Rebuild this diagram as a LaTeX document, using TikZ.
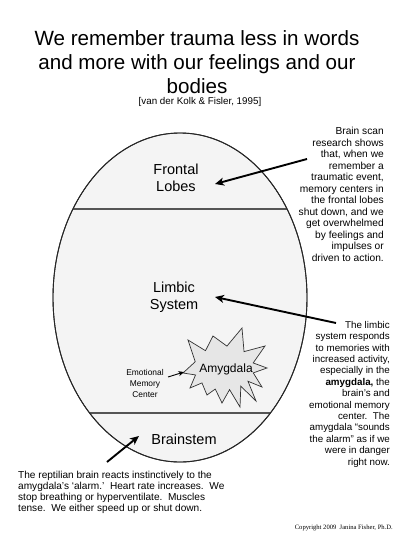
\documentclass[tikz,border=0pt]{standalone}
\usepackage{fontspec}
\setmainfont{Liberation Sans}
\newfontfamily\copyfont{Liberation Serif}
\usetikzlibrary{arrows.meta,shapes.geometric}
\definecolor{brainfill}{HTML}{F4F4F4}
\definecolor{starfill}{HTML}{E6E6E6}
\definecolor{lineclr}{HTML}{555555}
\begin{document}
\begin{tikzpicture}[x=1pt,y=-1pt,
  bigarrow/.style={line width=1.9pt,-{Stealth[length=9pt,width=8pt,inset=2.5pt]}},
  smallarrow/.style={line width=0.9pt,-{Stealth[length=5.5pt,width=5pt,inset=1.5pt]}},
  titletext/.style={font=\fontsize{20.6}{24}\selectfont, align=center, inner sep=0pt, anchor=base},
  regiontext/.style={font=\fontsize{14.5}{17}\selectfont, align=center, inner sep=0pt, anchor=base},
  notetext/.style={font=\fontsize{10.2}{11.5}\selectfont, align=right, inner sep=0pt, anchor=base east},
  notetextb/.style={font=\fontsize{9.8}{11.4}\selectfont, align=right, inner sep=0pt, anchor=base east},
  bottomtext/.style={font=\fontsize{10.1}{10.7}\selectfont, align=left, inner sep=0pt, anchor=base west},
  smalltext/.style={font=\fontsize{8.4}{10.8}\selectfont, align=center, inner sep=0pt, anchor=base},
  divider/.style={draw=lineclr, line width=1.3pt}]
\useasboundingbox (0,0) rectangle (400,533);
\fill[white] (0,0) rectangle (400,533);

% title (base anchor = baseline of last line)
\node[titletext] (title) at (197,93) {We remember trauma less in words\\and more with our feelings and our\\bodies};
\node[font=\fontsize{9.8}{12}\selectfont, inner sep=0pt, anchor=base] (cite) at (200,104) {[van der Kolk \& Fisler, 1995]};

% brain egg
\node[ellipse, draw=black!85, line width=0.9pt, fill=brainfill, minimum width=254pt, minimum height=329pt, inner sep=0pt] (brain) at (180,297.5) {};
\begin{scope}
  \clip (180,297.5) ellipse [x radius=127, y radius=164.5];
  \draw[divider] (40,209) -- (320,209);
  \draw[divider] (40,413) -- (320,413);
\end{scope}
\draw[black!85, line width=0.9pt] (180,297.5) ellipse [x radius=127, y radius=164.5];

% amygdala star
\coordinate (sc) at (224,368);
\draw[draw=black!80, line width=0.7pt, fill=starfill]
  (183,373) -- ([shift={(sc)}]-163.4:30 and 22)
  -- (188,340) -- ([shift={(sc)}]-128.1:30 and 22)
  -- (213,336) -- ([shift={(sc)}]-84.4:30 and 22)
  -- (242,328) -- ([shift={(sc)}]-48.1:30 and 22)
  -- (265,346) -- ([shift={(sc)}]-13.3:30 and 22)
  -- (267,368) -- ([shift={(sc)}]12.8:30 and 22)
  -- (262,387) -- ([shift={(sc)}]37:30 and 22)
  -- (256,401) -- ([shift={(sc)}]55.9:30 and 22)
  -- (240,407) -- ([shift={(sc)}]79.3:30 and 22)
  -- (222,403) -- ([shift={(sc)}]107:30 and 22)
  -- (207,395) -- ([shift={(sc)}]137.3:30 and 22)
  -- (190,388) -- ([shift={(sc)}]161.6:30 and 22)
  -- cycle;
\node[font=\fontsize{12}{14}\selectfont, inner sep=0pt, anchor=base] (amyg) at (226,372) {Amygdala};

% region labels
\node[regiontext] (frontal) at (176,191) {Frontal\\Lobes};
\node[regiontext] (limbic) at (174,309) {Limbic\\System};
\node[regiontext] (brainstem) at (184,444) {Brainstem};
\node[smalltext] (emc) at (145,397) {Emotional\\Memory\\Center};

% notes
\node[notetext] (note1) at (384,261) {Brain scan\\research shows\\that, when we\\remember a\\traumatic event,\\memory centers in\\the frontal lobes\\shut down, and we\\get overwhelmed\\by feelings and\\impulses or\\driven to action.};
\node[notetextb] (note2) at (390,465) {The limbic\\system responds\\to memories with\\increased activity,\\especially in the\\\textbf{amygdala,} the\\brain’s and\\emotional memory\\center.\ \ The\\amygdala “sounds\\the alarm” as if we\\were in danger\\right now.};
\node[bottomtext] (note3) at (18,511) {The reptilian brain reacts instinctively to the\\amygdala’s ‘alarm.’\ \ Heart rate increases.\ \ We\\stop breathing or hyperventilate.\ \ Muscles\\tense.\ \ We either speed up or shut down.};
\node[font=\copyfont\fontsize{6.6}{8}\selectfont, inner sep=0pt, anchor=base east] (copy) at (393,529) {Copyright 2009\ \ Janina Fisher, Ph.D.};

% arrows
\coordinate (a1s) at (307,159);
\coordinate (a1e) at (215,184);
\coordinate (a2s) at (336,323);
\coordinate (a2e) at (215,297);
\coordinate (a3s) at (107,462);
\coordinate (a3e) at (139,436);
\coordinate (a4s) at (168,377);
\coordinate (a4e) at (184,372);
\draw[bigarrow] (a1s) -- (a1e);
\draw[bigarrow] (a2s) -- (a2e);
\draw[bigarrow] (a3s) -- (a3e);
\draw[smallarrow] (a4s) -- (a4e);
\end{tikzpicture}
\end{document}
